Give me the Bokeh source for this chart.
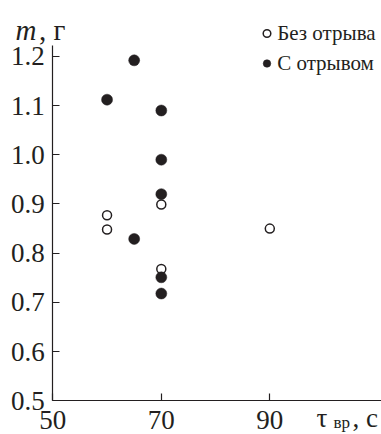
from bokeh.plotting import figure
from bokeh.models import Label, Legend, LegendItem, FixedTicker, Range1d
from bokeh.embed import file_html
from bokeh.resources import INLINE

# Data
open_x = [60, 60, 70, 70, 90]
open_y = [0.877, 0.848, 0.899, 0.768, 0.850]
filled_x = [60, 65, 70, 70, 70, 65, 70, 70]
filled_y = [1.112, 1.192, 1.090, 0.990, 0.920, 0.829, 0.751, 0.718]
x_ticks = [50, 70, 90]
y_ticks = [0.5, 0.6, 0.7, 0.8, 0.9, 1.0, 1.1, 1.2]
y_tick_labels = ["0.5", "0.6", "0.7", "0.8", "0.9", "1.0", "1.1", "1.2"]
legend_labels = ["Без отрыва", "С отрывом"]

INK = "#231f20"
FONT = "Liberation Serif"

p = figure(width=381, height=434, output_backend="svg", toolbar_location=None,
           x_range=Range1d(40.36, 110.59), y_range=Range1d(0.4315, 1.3136),
           min_border=0)
p.outline_line_color = None
p.grid.visible = False
p.background_fill_color = "white"
p.border_fill_color = "white"

for ax in (p.xaxis[0], p.yaxis[0]):
    ax.axis_line_color = INK
    ax.axis_line_width = 1.2
    ax.major_tick_line_color = INK
    ax.major_tick_line_width = 1.2
    ax.major_tick_in = 7
    ax.major_tick_out = 0
    ax.minor_tick_line_color = None
    ax.major_label_text_font = FONT
    ax.major_label_text_font_size = "27px"
    ax.major_label_text_color = INK

p.xaxis.ticker = FixedTicker(ticks=x_ticks)
p.yaxis.ticker = FixedTicker(ticks=y_ticks)
p.yaxis.major_label_overrides = {t: l for t, l in zip(y_ticks, y_tick_labels)}
p.xaxis.fixed_location = 0.5
p.yaxis.fixed_location = 50
p.xaxis.bounds = (50, 110.59)
p.yaxis.bounds = (0.5, 1.2217)
p.xaxis.major_label_standoff = 10
p.yaxis.major_label_standoff = 8

r_open = p.scatter(open_x, open_y, size=9, marker="circle", fill_color="white",
                   line_color=INK, line_width=1.5)
r_fill = p.scatter(filled_x, filled_y, size=11, marker="circle", fill_color=INK,
                   line_color=INK, line_width=0.5)

legend = Legend(items=[LegendItem(label=legend_labels[0], renderers=[r_open]),
                       LegendItem(label=legend_labels[1], renderers=[r_fill])],
                location=(257.2, 356), padding=0, margin=0, spacing=0,
                glyph_width=19, glyph_height=30, label_height=30, label_standoff=1,
                border_line_color=None, background_fill_alpha=0,
                label_text_font=FONT, label_text_font_size="21px", label_text_color=INK)
p.add_layout(legend, "center")

p.add_layout(Label(x=43.124, y=1.2527, text="m", text_font=FONT, text_font_style="italic",
                   text_font_size="29px", text_color=INK, text_baseline="alphabetic"))
p.add_layout(Label(x=47.456, y=1.2527, text=", г", text_font=FONT,
                   text_font_size="29px", text_color=INK, text_baseline="alphabetic"))
p.add_layout(Label(x=98.61, y=0.4652, text="τ", text_font=FONT,
                   text_font_size="27px", text_color=INK, text_baseline="alphabetic"))
p.add_layout(Label(x=101.74, y=0.4550, text="вр", text_font=FONT,
                   text_font_size="17px", text_color=INK, text_baseline="alphabetic"))
p.add_layout(Label(x=105.24, y=0.4652, text=", с", text_font=FONT,
                   text_font_size="27px", text_color=INK, text_baseline="alphabetic"))

open("out.html", "w").write(file_html(p, INLINE))
